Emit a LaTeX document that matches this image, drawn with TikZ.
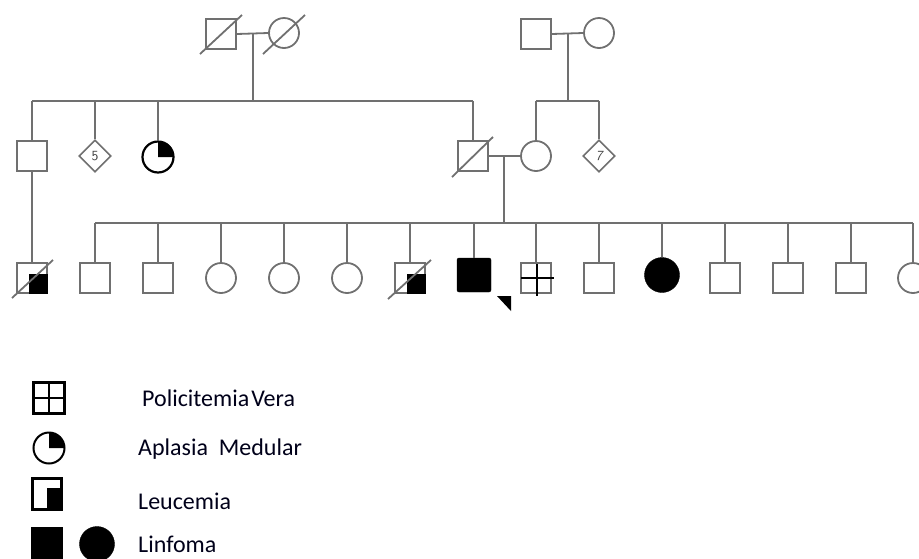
\documentclass[tikz,border=0pt]{standalone}
\usepackage{fontspec}
\setmainfont{Carlito}
\usetikzlibrary{shapes.geometric,calc}
\definecolor{pgray}{RGB}{112,112,112}
\begin{document}
\begin{tikzpicture}[x=1pt,y=1pt,
  ln/.style={draw=pgray,line width=1.8pt},
  sq/.style={draw=pgray,line width=1.8pt,rectangle,minimum size=30pt,inner sep=0pt},
  ci/.style={draw=pgray,line width=1.8pt,circle,minimum size=30pt,inner sep=0pt},
  dia/.style={draw=pgray,line width=1.6pt,diamond,minimum size=32pt,inner sep=0pt,
    font=\sffamily\fontsize{14}{14}\selectfont,text=black!75},
  qc/.style={draw=black,line width=2.2pt,circle,minimum size=31pt,inner sep=0pt},
  lbl/.style={anchor=base west,inner sep=0pt,font=\fontsize{24}{26}\selectfont,text=black!90!blue},
  lk/.style={fill=black},
  crossl/.style={draw=black,line width=1.3pt}]
\useasboundingbox (0,0) rectangle (919,-558);
\clip (0,0) rectangle (919,-558);

% ---------- Generation I ----------
\node[sq] (g1a) at (221,-34) {};
\node[ci] (g1b) at (284,-33) {};
\draw[ln] ($(g1a)+(-21,-20)$) -- ($(g1a)+(21,19)$);
\draw[ln] ($(g1b)+(-21,-21)$) -- ($(g1b)+(21,18)$);
\draw[ln] (g1a.east) -- (g1b.west);
\coordinate (m1) at (253,-33);

\node[sq] (g1c) at (536,-34) {};
\node[ci] (g1d) at (599,-33) {};
\draw[ln] (g1c.east) -- (g1d.west);
\coordinate (m2) at (568,-33);

% ---------- Generation II ----------
\node[sq] (g2a) at (32,-156) {};
\node[dia] (g2b) at (95,-156) {5};
\node[qc] (g2c) at (158,-157) {};
\fill[black] (g2c.center) -- ++(15.5,0) arc (0:90:15.5) -- cycle;
\node[sq] (g2d) at (473,-156) {};
\draw[ln] ($(g2d)+(-21,-21)$) -- ($(g2d)+(20,19)$);
\node[ci] (g2e) at (536,-156) {};
\node[dia] (g2f) at (599,-156) {\itshape 7};
\draw[ln] (g2d.east) -- (g2e.west);
\coordinate (m3) at (504,-156);

% sibship lines, generation II
\coordinate (s1) at (253,-101);
\draw[ln] (m1) -- (s1);
\draw[ln] (g2a |- s1) -- (g2d |- s1);
\foreach \n in {g2a,g2b,g2c,g2d} \draw[ln] (\n |- s1) -- (\n.north);
\coordinate (s2) at (568,-101);
\draw[ln] (m2) -- (s2);
\draw[ln] (g2e |- s2) -- (g2f |- s2);
\foreach \n in {g2e,g2f} \draw[ln] (\n |- s2) -- (\n.north);

% ---------- Generation III ----------
\node[sq] (g3a) at (32,-278) {};
\fill[lk] ($(g3a)+(-3,4)$) rectangle ($(g3a)+(16,-16)$);
\draw[ln] ($(g3a)+(-20,-20)$) -- ($(g3a)+(21,18)$);
\draw[ln] (g2a.south) -- (g3a.north);

\node[sq] (c1) at (95,-278) {};
\node[sq] (c2) at (158,-278) {};
\node[ci] (c3) at (221,-278) {};
\node[ci] (c4) at (284,-278) {};
\node[ci] (c5) at (347,-278) {};
\node[sq] (c6) at (410,-278) {};
\fill[lk] ($(c6)+(-3,4)$) rectangle ($(c6)+(16,-16)$);
\draw[ln] ($(c6)+(-22,-21)$) -- ($(c6)+(21,18)$);
\node[draw=black,fill=black,rounded corners=2pt,minimum size=34pt,inner sep=0pt] (c7) at (474,-275) {};
\fill[black] (497,-296) -- (511,-296) -- (511,-311) -- cycle;
\node[sq] (c8) at (536,-278) {};
\draw[crossl] ($(c8)+(1,14)$) -- ($(c8)+(1,-18)$);
\draw[crossl] ($(c8)+(-15,0)$) -- ($(c8)+(18,0)$);
\node[sq] (c9) at (599,-278) {};
\node[draw=black,fill=black,circle,minimum size=35pt,inner sep=0pt] (c10) at (662,-275) {};
\node[sq] (c11) at (725,-278) {};
\node[sq] (c12) at (788,-278) {};
\node[sq] (c13) at (851,-278) {};
\node[ci] (c14) at (913,-278) {};

\coordinate (s3) at (504,-223);
\draw[ln] (m3) -- (s3);
\draw[ln] (c1 |- s3) -- (c14 |- s3);
\foreach \n in {c1,c2,c3,c4,c5,c6,c7,c8,c9,c10,c11,c12,c13,c14} \draw[ln] (\n |- s3) -- (\n.north);

% ---------- Legend ----------
\node[draw=black,line width=2.4pt,minimum size=31pt,inner sep=0pt] (k1) at (49,-398) {};
\draw[crossl] (k1.north) -- (k1.south);
\draw[crossl] (k1.west) -- (k1.east);
\node[lbl] (t1) at (142,-406) {Policitemia\hspace{2pt}Vera};

\node[draw=black,line width=2pt,circle,minimum size=31pt,inner sep=0pt] (k2) at (49,-448) {};
\fill[black] (k2.center) -- ++(15.5,0) arc (0:90:15.5) -- cycle;
\node[lbl] (t2) at (138,-455) {Aplasia\ \ Medular};

\node[draw=black,line width=2.6pt,minimum width=29pt,minimum height=31pt,inner sep=0pt] (k3) at (47,-494) {};
\fill[black] ($(k3)+(0,6)$) rectangle (k3.south east);
\node[lbl] (t3) at (138,-509) {Leucemia};

\node[draw=black,fill=black,minimum size=31pt,inner sep=0pt] (k4) at (47,-543) {};
\node[draw=black,fill=black,circle,minimum size=35pt,inner sep=0pt] (k5) at (97,-544) {};
\node[lbl] (t4) at (138,-552) {Linfoma};
\end{tikzpicture}
\end{document}
